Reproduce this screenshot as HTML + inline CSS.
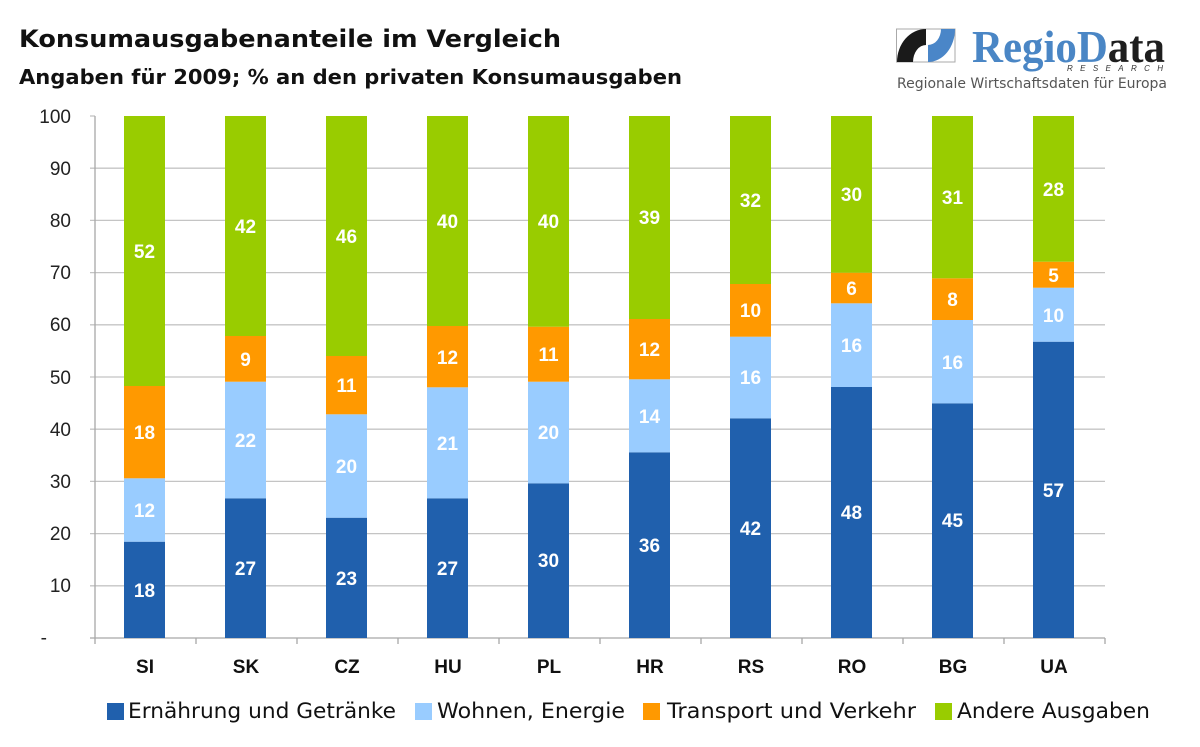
<!DOCTYPE html>
<html>
<head>
<meta charset="utf-8">
<style>
  html,body{margin:0;padding:0;background:#fff;}
  svg{display:block;}
</style>
</head>
<body>
<svg width="1200" height="747" viewBox="0 0 1200 747" xmlns="http://www.w3.org/2000/svg">
  <rect width="1200" height="747" fill="#fff"/>

  <!-- Titles -->
  <text x="19" y="47" font-family="DejaVu Sans, Liberation Sans, sans-serif" font-weight="bold" font-size="24" fill="#111" textLength="542" lengthAdjust="spacingAndGlyphs">Konsumausgabenanteile im Vergleich</text>
  <text x="19" y="84" font-family="DejaVu Sans, Liberation Sans, sans-serif" font-weight="bold" font-size="20" fill="#111" textLength="663" lengthAdjust="spacingAndGlyphs">Angaben für 2009; % an den privaten Konsumausgaben</text>

  <!-- Logo -->
  <rect x="896.5" y="29" width="58.5" height="33" fill="none" stroke="#aaa" stroke-width="1"/>
  <path d="M897,62 A29,33 0 0 1 926,29 L926,45 A13,17 0 0 0 913,62 Z" fill="#1a1a1a"/>
  <path d="M955,29 A27,33 0 0 1 928,62 L928,45 A13,16 0 0 0 941,29 Z" fill="#4a86c8"/>
  <text x="972" y="62" font-family="Liberation Serif, serif" font-weight="bold" font-size="46" textLength="193" lengthAdjust="spacingAndGlyphs"><tspan fill="#4a86c5">RegioD</tspan><tspan fill="#1e1e1e">ata</tspan></text>
  <text x="1067" y="71" font-family="Liberation Sans, sans-serif" font-style="italic" font-size="8" fill="#333" textLength="96" lengthAdjust="spacing">RESEARCH</text>
  <text x="897" y="88" font-family="DejaVu Sans, Liberation Sans, sans-serif" font-size="14" fill="#555" textLength="270" lengthAdjust="spacingAndGlyphs">Regionale Wirtschaftsdaten für Europa</text>

  <!-- Gridlines -->
  <g stroke="#c4c4c4" stroke-width="1.3">
    <line x1="90" y1="585.8" x2="1105" y2="585.8"/>
    <line x1="90" y1="533.6" x2="1105" y2="533.6"/>
    <line x1="90" y1="481.4" x2="1105" y2="481.4"/>
    <line x1="90" y1="429.2" x2="1105" y2="429.2"/>
    <line x1="90" y1="377" x2="1105" y2="377"/>
    <line x1="90" y1="324.8" x2="1105" y2="324.8"/>
    <line x1="90" y1="272.6" x2="1105" y2="272.6"/>
    <line x1="90" y1="220.4" x2="1105" y2="220.4"/>
    <line x1="90" y1="168.2" x2="1105" y2="168.2"/>
    <line x1="90" y1="116" x2="95" y2="116"/>
  </g>

  <!-- Axes -->
  <g stroke="#a8a8a8" stroke-width="1.3">
    <line x1="95" y1="116" x2="95" y2="638"/>
    <line x1="90" y1="638" x2="1105" y2="638"/>
    <line x1="95" y1="638" x2="95" y2="644"/>
    <line x1="196" y1="638" x2="196" y2="644"/>
    <line x1="297" y1="638" x2="297" y2="644"/>
    <line x1="398" y1="638" x2="398" y2="644"/>
    <line x1="499" y1="638" x2="499" y2="644"/>
    <line x1="600" y1="638" x2="600" y2="644"/>
    <line x1="701" y1="638" x2="701" y2="644"/>
    <line x1="802" y1="638" x2="802" y2="644"/>
    <line x1="903" y1="638" x2="903" y2="644"/>
    <line x1="1004" y1="638" x2="1004" y2="644"/>
    <line x1="1105" y1="638" x2="1105" y2="644"/>
  </g>

  <!-- Y labels -->
  <g font-family="Liberation Sans, Arial, sans-serif" font-size="19" fill="#222" text-anchor="end">
    <text x="71" y="123">100</text>
    <text x="71" y="175">90</text>
    <text x="71" y="227">80</text>
    <text x="71" y="279">70</text>
    <text x="71" y="331">60</text>
    <text x="71" y="384">50</text>
    <text x="71" y="436">40</text>
    <text x="71" y="488">30</text>
    <text x="71" y="540">20</text>
    <text x="71" y="592">10</text>
    <text x="47" y="644">-</text>
  </g>

  <!-- Bars -->
  <g>
    <!-- SI -->
    <rect x="124" y="541.7" width="41" height="96.3" fill="#2060ad"/>
    <rect x="124" y="478.3" width="41" height="63.4" fill="#99ccff"/>
    <rect x="124" y="386" width="41" height="92.3" fill="#ff9900"/>
    <rect x="124" y="116" width="41" height="270" fill="#99cc00"/>
    <!-- SK -->
    <rect x="225" y="498.3" width="41" height="139.7" fill="#2060ad"/>
    <rect x="225" y="381.7" width="41" height="116.6" fill="#99ccff"/>
    <rect x="225" y="336" width="41" height="45.7" fill="#ff9900"/>
    <rect x="225" y="116" width="41" height="220" fill="#99cc00"/>
    <!-- CZ -->
    <rect x="326" y="517.7" width="41" height="120.3" fill="#2060ad"/>
    <rect x="326" y="414.3" width="41" height="103.4" fill="#99ccff"/>
    <rect x="326" y="356" width="41" height="58.3" fill="#ff9900"/>
    <rect x="326" y="116" width="41" height="240" fill="#99cc00"/>
    <!-- HU -->
    <rect x="427" y="498.3" width="41" height="139.7" fill="#2060ad"/>
    <rect x="427" y="387.3" width="41" height="111" fill="#99ccff"/>
    <rect x="427" y="326" width="41" height="61.3" fill="#ff9900"/>
    <rect x="427" y="116" width="41" height="210" fill="#99cc00"/>
    <!-- PL -->
    <rect x="528" y="483.3" width="41" height="154.7" fill="#2060ad"/>
    <rect x="528" y="381.7" width="41" height="101.6" fill="#99ccff"/>
    <rect x="528" y="326.7" width="41" height="55" fill="#ff9900"/>
    <rect x="528" y="116" width="41" height="210.7" fill="#99cc00"/>
    <!-- HR -->
    <rect x="629" y="452.3" width="41" height="185.7" fill="#2060ad"/>
    <rect x="629" y="379.3" width="41" height="73" fill="#99ccff"/>
    <rect x="629" y="319" width="41" height="60.3" fill="#ff9900"/>
    <rect x="629" y="116" width="41" height="203" fill="#99cc00"/>
    <!-- RS -->
    <rect x="730" y="418.3" width="41" height="219.7" fill="#2060ad"/>
    <rect x="730" y="336.7" width="41" height="81.6" fill="#99ccff"/>
    <rect x="730" y="284" width="41" height="52.7" fill="#ff9900"/>
    <rect x="730" y="116" width="41" height="168" fill="#99cc00"/>
    <!-- RO -->
    <rect x="831" y="387" width="41" height="251" fill="#2060ad"/>
    <rect x="831" y="303.3" width="41" height="83.7" fill="#99ccff"/>
    <rect x="831" y="272.7" width="41" height="30.6" fill="#ff9900"/>
    <rect x="831" y="116" width="41" height="156.7" fill="#99cc00"/>
    <!-- BG -->
    <rect x="932" y="403.3" width="41" height="234.7" fill="#2060ad"/>
    <rect x="932" y="320" width="41" height="83.3" fill="#99ccff"/>
    <rect x="932" y="278.3" width="41" height="41.7" fill="#ff9900"/>
    <rect x="932" y="116" width="41" height="162.3" fill="#99cc00"/>
    <!-- UA -->
    <rect x="1033" y="341.7" width="41" height="296.3" fill="#2060ad"/>
    <rect x="1033" y="287.7" width="41" height="54" fill="#99ccff"/>
    <rect x="1033" y="261.7" width="41" height="26" fill="#ff9900"/>
    <rect x="1033" y="116" width="41" height="145.7" fill="#99cc00"/>
  </g>

  <!-- Data labels -->
  <g font-family="Liberation Sans, Arial, sans-serif" font-weight="bold" font-size="19" fill="#fff" text-anchor="middle">
    <!-- SI -->
    <text x="144.5" y="597">18</text>
    <text x="144.5" y="517">12</text>
    <text x="144.5" y="439">18</text>
    <text x="144.5" y="258">52</text>
    <!-- SK -->
    <text x="245.5" y="575">27</text>
    <text x="245.5" y="447">22</text>
    <text x="245.5" y="366">9</text>
    <text x="245.5" y="233">42</text>
    <!-- CZ -->
    <text x="346.5" y="585">23</text>
    <text x="346.5" y="473">20</text>
    <text x="346.5" y="392">11</text>
    <text x="346.5" y="243">46</text>
    <!-- HU -->
    <text x="447.5" y="575">27</text>
    <text x="447.5" y="450">21</text>
    <text x="447.5" y="364">12</text>
    <text x="447.5" y="228">40</text>
    <!-- PL -->
    <text x="548.5" y="567">30</text>
    <text x="548.5" y="439">20</text>
    <text x="548.5" y="361">11</text>
    <text x="548.5" y="228">40</text>
    <!-- HR -->
    <text x="649.5" y="552">36</text>
    <text x="649.5" y="423">14</text>
    <text x="649.5" y="356">12</text>
    <text x="649.5" y="224">39</text>
    <!-- RS -->
    <text x="750.5" y="535">42</text>
    <text x="750.5" y="384">16</text>
    <text x="750.5" y="317">10</text>
    <text x="750.5" y="207">32</text>
    <!-- RO -->
    <text x="851.5" y="519">48</text>
    <text x="851.5" y="352">16</text>
    <text x="851.5" y="295">6</text>
    <text x="851.5" y="201">30</text>
    <!-- BG -->
    <text x="952.5" y="527">45</text>
    <text x="952.5" y="369">16</text>
    <text x="952.5" y="306">8</text>
    <text x="952.5" y="204">31</text>
    <!-- UA -->
    <text x="1053.5" y="497">57</text>
    <text x="1053.5" y="322">10</text>
    <text x="1053.5" y="282">5</text>
    <text x="1053.5" y="196">28</text>
  </g>

  <!-- X labels -->
  <g font-family="Liberation Sans, Arial, sans-serif" font-weight="bold" font-size="19" fill="#111" text-anchor="middle">
    <text x="145" y="673">SI</text>
    <text x="246" y="673">SK</text>
    <text x="347" y="673">CZ</text>
    <text x="448" y="673">HU</text>
    <text x="549" y="673">PL</text>
    <text x="650" y="673">HR</text>
    <text x="751" y="673">RS</text>
    <text x="852" y="673">RO</text>
    <text x="953" y="673">BG</text>
    <text x="1054" y="673">UA</text>
  </g>

  <!-- Legend -->
  <rect x="107" y="703" width="17" height="17" fill="#2060ad"/>
  <rect x="415" y="703" width="17" height="17" fill="#99ccff"/>
  <rect x="643" y="703" width="17" height="17" fill="#ff9900"/>
  <rect x="935" y="703" width="17" height="17" fill="#99cc00"/>
  <g font-family="DejaVu Sans, Liberation Sans, sans-serif" font-size="21" fill="#111">
    <text x="128" y="718" textLength="268" lengthAdjust="spacingAndGlyphs">Ernährung und Getränke</text>
    <text x="437" y="718" textLength="188" lengthAdjust="spacingAndGlyphs">Wohnen, Energie</text>
    <text x="667" y="718" textLength="249" lengthAdjust="spacingAndGlyphs">Transport und Verkehr</text>
    <text x="957" y="718" textLength="193" lengthAdjust="spacingAndGlyphs">Andere Ausgaben</text>
  </g>
</svg>
</body>
</html>
